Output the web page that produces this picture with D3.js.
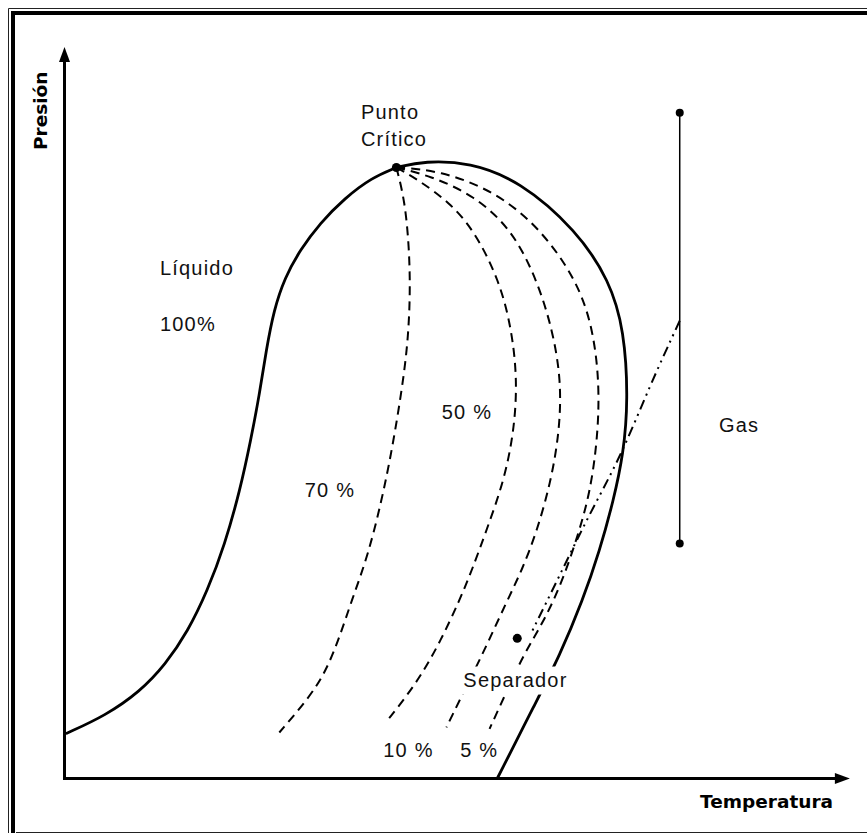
<!DOCTYPE html>
<html>
<head>
<meta charset="utf-8">
<script src="https://cdn.jsdelivr.net/npm/d3@7/dist/d3.min.js"></script>
<style>
  html, body { margin: 0; padding: 0; background: #fff; }
  svg { display: block; }
</style>
</head>
<body>
<script>
// ---- Data (schematic units: Temperatura 0-100, Presión 0-100) ----
const bubbleCurve = [[0.3,6.2],[5.3,8.6],[9.8,11.9],[13.1,15.6],[16.0,20.1],[18.6,25.8],[20.8,32.0],[22.8,39.5],[24.2,46.4],[25.3,52.5],[26.2,58.7],[27.2,64.2],[28.6,68.6],[30.6,72.4],[33.2,76.1],[36.4,79.5],[39.9,82.3],[43.1,83.7]];
const dewCurve = [[43.1,83.7],[46.8,84.6],[52.6,84.4],[59.1,81.9],[66.5,75.1],[70.8,68.2],[72.7,61.4],[73.2,51.8],[72.6,44.5],[71.3,38.1],[69.5,31.2],[67.3,24.4],[64.3,16.8],[61.2,10.4],[56.2,0]];
const quality70 = [[43.1,83.7],[44.2,79.2],[44.8,72.3],[44.9,65.5],[44.5,58.6],[43.6,51.8],[42.5,44.9],[41.2,38.1],[39.4,30.5],[37.3,24.4],[35.7,19.3],[34.0,14.8],[31.8,11.1],[27.9,6.3]];
const quality50 = [[43.1,83.7],[46.1,81.9],[50.0,78.9],[53.2,75.1],[56.5,68.2],[58.1,61.4],[58.8,54.5],[58.4,47.7],[57.1,40.8],[54.8,34.0],[52.9,28.5],[51.3,24.4],[48.7,18.5],[45.7,13.0],[41.9,7.9]];
const quality10 = [[43.1,83.7],[47.4,82.6],[53.2,79.9],[58.2,75.1],[61.4,68.2],[63.4,61.4],[64.5,54.5],[64.3,47.7],[63.2,40.8],[61.4,34.0],[59.4,28.5],[57.5,24.4],[54.2,16.8],[51.3,10.7],[49.6,7.0]];
const quality5 = [[43.1,83.7],[48.7,83.3],[55.8,80.5],[61.7,75.5],[66.6,68.2],[68.7,61.4],[69.5,53.6],[69.2,46.3],[68.3,39.5],[66.9,34.0],[64.7,27.1],[62.3,21.6],[59.5,16.8],[56.9,10.7],[55.2,6.8]];
const processPath = [[79.9,62.7],[76.0,53.8],[72.3,44.2],[68.2,36.3],[64.3,27.8],[60.6,19.9]];
const reservoirLine = [[79.9,91.2],[79.9,32.2]];
const criticalPoint = [43.1,83.7];
const separatorPoint = [58.8,19.2];
const labels = [
  {text:"Punto", t:38.5, p:90.4},
  {text:"Crítico", t:38.5, p:86.6},
  {text:"Líquido", t:12.4, p:69.0},
  {text:"100%", t:12.4, p:61.3},
  {text:"50 %", t:49.0, p:49.3},
  {text:"70 %", t:31.2, p:38.5},
  {text:"Gas", t:85.0, p:47.5},
  {text:"10 %", t:41.4, p:2.9},
  {text:"5 %", t:51.4, p:2.9}
];
const separatorLabel = {text:"Separador", t:51.8, p:12.6};
const xAxisTitle = "Temperatura";
const yAxisTitle = "Presión";

// ---- Layout ----
const W = 867, H = 833;
const x = d3.scaleLinear().domain([0,100]).range([64.5, 834.5]);
const y = d3.scaleLinear().domain([0,100]).range([778.5, 48.5]);

const svg = d3.select("body").append("svg").attr("width", W).attr("height", H);
svg.append("rect").attr("width", W).attr("height", H).attr("fill", "#fff");

// frame (double border, cut at right/bottom)
svg.append("path").attr("d", `M8.5,${H} V8.5 H${W}`).attr("fill","none").attr("stroke","#222").attr("stroke-width",1);
svg.append("path").attr("d", `M13,${H} V13 H${W}`).attr("fill","none").attr("stroke","#000").attr("stroke-width",4);
svg.append("path").attr("d", `M16,832.5 H${W}`).attr("fill","none").attr("stroke","#222").attr("stroke-width",1);

const smooth = d3.line().x(d => x(d[0])).y(d => y(d[1])).curve(d3.curveBasis);
const straight = d3.line().x(d => x(d[0])).y(d => y(d[1]));

// axes
const axisTop = y(100.2), axisRight = x(102.0);
svg.append("line").attr("x1", x(0)).attr("y1", y(0)).attr("x2", x(0)).attr("y2", axisTop + 10)
  .attr("stroke","#000").attr("stroke-width",3);
svg.append("line").attr("x1", x(0)-1.5).attr("y1", y(0)).attr("x2", axisRight - 10).attr("y2", y(0))
  .attr("stroke","#000").attr("stroke-width",3);
svg.append("path").attr("d", `M${x(0)},${axisTop} L${x(0)-5.5},${axisTop+15} L${x(0)+5.5},${axisTop+15} Z`).attr("fill","#000");
svg.append("path").attr("d", `M${axisRight},${y(0)} L${axisRight-15},${y(0)-5.5} L${axisRight-15},${y(0)+5.5} Z`).attr("fill","#000");

// curves
svg.append("path").attr("d", smooth(bubbleCurve)).attr("fill","none").attr("stroke","#000").attr("stroke-width",2.8).attr("stroke-linecap","round");
svg.append("path").attr("d", smooth(dewCurve)).attr("fill","none").attr("stroke","#000").attr("stroke-width",2.8).attr("stroke-linecap","round");
[quality70, quality50, quality10, quality5].forEach(q => {
  svg.append("path").attr("d", smooth(q)).attr("fill","none").attr("stroke","#000")
    .attr("stroke-width",2).attr("stroke-dasharray","9,6");
});
svg.append("path").attr("d", smooth(processPath)).attr("fill","none").attr("stroke","#000")
  .attr("stroke-width",2).attr("stroke-dasharray","10,5,2,5,2,5");
svg.append("path").attr("d", straight(reservoirLine)).attr("fill","none").attr("stroke","#000").attr("stroke-width",1.5);
reservoirLine.forEach(d => svg.append("circle").attr("cx", x(d[0])).attr("cy", y(d[1])).attr("r",4).attr("fill","#000"));
svg.append("circle").attr("cx", x(criticalPoint[0])).attr("cy", y(criticalPoint[1])).attr("r",4.5).attr("fill","#000");
svg.append("circle").attr("cx", x(separatorPoint[0])).attr("cy", y(separatorPoint[1])).attr("r",4.5).attr("fill","#000");

// labels
const font = "'Liberation Sans', Arial, sans-serif";
const boldFont = "'DejaVu Sans', Verdana, sans-serif";
labels.forEach(l => {
  svg.append("text").attr("x", x(l.t)).attr("y", y(l.p)).text(l.text)
    .attr("font-family", font).attr("font-size", 20).attr("letter-spacing", 1.2).attr("fill","#111");
});
const sep = svg.append("g");
const sepText = sep.append("text").attr("x", x(separatorLabel.t)).attr("y", y(separatorLabel.p)).text(separatorLabel.text)
  .attr("font-family", font).attr("font-size", 20).attr("letter-spacing", 1.2).attr("fill","#111");
const bb = sepText.node().getBBox();
sep.insert("rect","text").attr("x", bb.x-3).attr("y", bb.y-2).attr("width", bb.width+6).attr("height", bb.height+6).attr("fill","#fff");

svg.append("text").attr("x", 700).attr("y", 807.5).text(xAxisTitle)
  .attr("font-family", boldFont).attr("font-weight","bold").attr("font-size", 18.5).attr("fill","#000");
svg.append("text").attr("transform","translate(47,150) rotate(-90)").text(yAxisTitle)
  .attr("font-family", boldFont).attr("font-weight","bold").attr("font-size", 18.5).attr("fill","#000");
</script>
</body>
</html>
